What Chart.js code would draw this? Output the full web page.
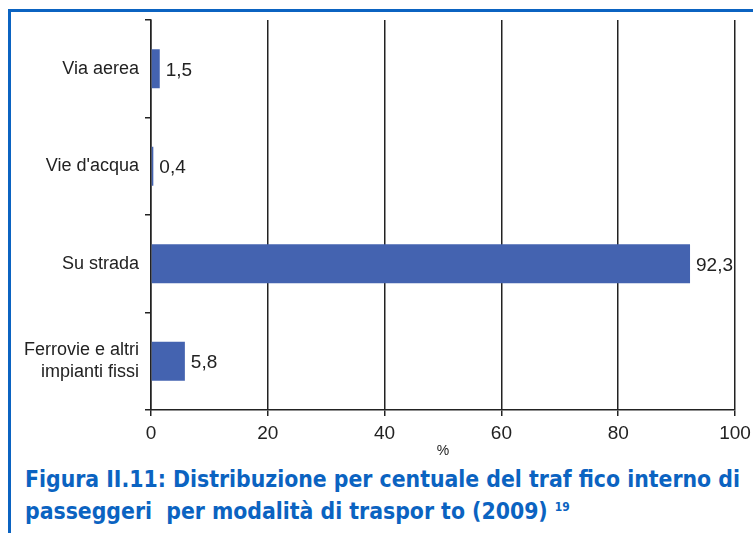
<!DOCTYPE html>
<html>
<head>
<meta charset="utf-8">
<script src="https://cdn.jsdelivr.net/npm/chart.js@4"></script>
<style>
  html, body { margin: 0; padding: 0; background: #fff; }
  #wrap { position: relative; width: 753px; height: 533px; overflow: hidden; }
  #frame { position: absolute; left: 8px; top: 9px; width: 760px; height: 540px;
           border-top: 3px solid #0b63c1; border-left: 3px solid #0b63c1; }
  #box { position: absolute; left: 0; top: 0; width: 753px; height: 460px; }
  .cap { position: absolute; left: 25px; white-space: nowrap; transform-origin: 0 0;
         font-family: "Liberation Sans Narrow", "DejaVu Sans Condensed", "Roboto Condensed", Roboto, sans-serif;
         font-weight: bold; font-size: 23px; line-height: 26px; color: #0b63c1; }
  .cap sup { font-size: 12px; vertical-align: 8px; line-height: 0; }
</style>
</head>
<body>
<div id="wrap">
  <div id="frame"></div>
  <div id="box"><canvas id="myChart"></canvas></div>
  <div class="cap" id="cap1" style="top:466px">Figura II.11: Distribuzione per centuale del traf fico interno di</div>
  <div class="cap" id="cap2" style="top:498px">passeggeri&nbsp; per modalità di traspor to (2009) <sup>19</sup></div>
</div>
<script>
const categories = ["Via aerea", "Vie d'acqua", "Su strada", ["Ferrovie e altri", "impianti fissi"]];
const shares = [1.5, 0.4, 92.3, 5.8];
const xTicks = [0, 20, 40, 60, 80, 100];

// squeeze the caption lines to the width they take in the original
const cap1 = document.getElementById('cap1');
const cap2 = document.getElementById('cap2');
const k = 715 / cap1.offsetWidth;
cap1.style.transform = 'scaleX(' + k + ')';
cap2.style.transform = 'scaleX(' + k + ')';

const valueLabels = {
  id: 'valueLabels',
  afterDatasetsDraw(chart) {
    const ctx = chart.ctx;
    const meta = chart.getDatasetMeta(0);
    ctx.save();
    ctx.font = '19px "Liberation Sans", Arial, sans-serif';
    ctx.fillStyle = '#222';
    ctx.textAlign = 'left';
    ctx.textBaseline = 'middle';
    meta.data.forEach((bar, i) => {
      ctx.fillText(String(shares[i]).replace('.', ','), bar.x + 6, bar.y + 2);
    });
    ctx.restore();
  }
};

const ctx = document.getElementById("myChart").getContext('2d');
const chart = new Chart(ctx, {
  type: 'bar',
  data: {
    labels: categories,
    datasets: [{
      data: shares,
      backgroundColor: '#4463b0',
      borderWidth: 0,
      categoryPercentage: 1,
      barPercentage: 0.4
    }]
  },
  plugins: [valueLabels],
  options: {
    indexAxis: 'y',
    responsive: true,
    maintainAspectRatio: false,
    animation: false,
    layout: { padding: { left: 0, top: 20, right: 18, bottom: 0 } },
    plugins: { legend: { display: false }, tooltip: { enabled: false } },
    scales: {
      x: {
        min: 0, max: 100,
        afterBuildTicks: (scale) => { scale.ticks = xTicks.map(v => ({ value: v })); },
        afterFit: (scale) => { scale.height = 50; scale.paddingLeft = 0; scale.paddingRight = 0; },
        grid: { color: '#222', lineWidth: 1.5, tickLength: 6, drawTicks: true },
        border: { display: true, color: '#222', width: 1.5 },
        ticks: { color: '#222', padding: 6, maxRotation: 0,
                 font: { family: '"Liberation Sans", Arial, sans-serif', size: 19 } },
        title: { display: true, text: '%', color: '#222', padding: { top: 0, bottom: 0 },
                 font: { family: '"Liberation Sans", Arial, sans-serif', size: 14 } }
      },
      y: {
        afterFit: (scale) => { scale.width = 151; scale.paddingTop = 0; scale.paddingBottom = 0; },
        grid: { drawOnChartArea: false, drawTicks: true, tickLength: 6, color: '#222', lineWidth: 1.5, offset: true },
        border: { display: true, color: '#222', width: 1.5 },
        ticks: { color: '#222', padding: 6,
                 font: { family: '"Liberation Sans", Arial, sans-serif', size: 18 } }
      }
    }
  }
});
</script>
</body>
</html>
